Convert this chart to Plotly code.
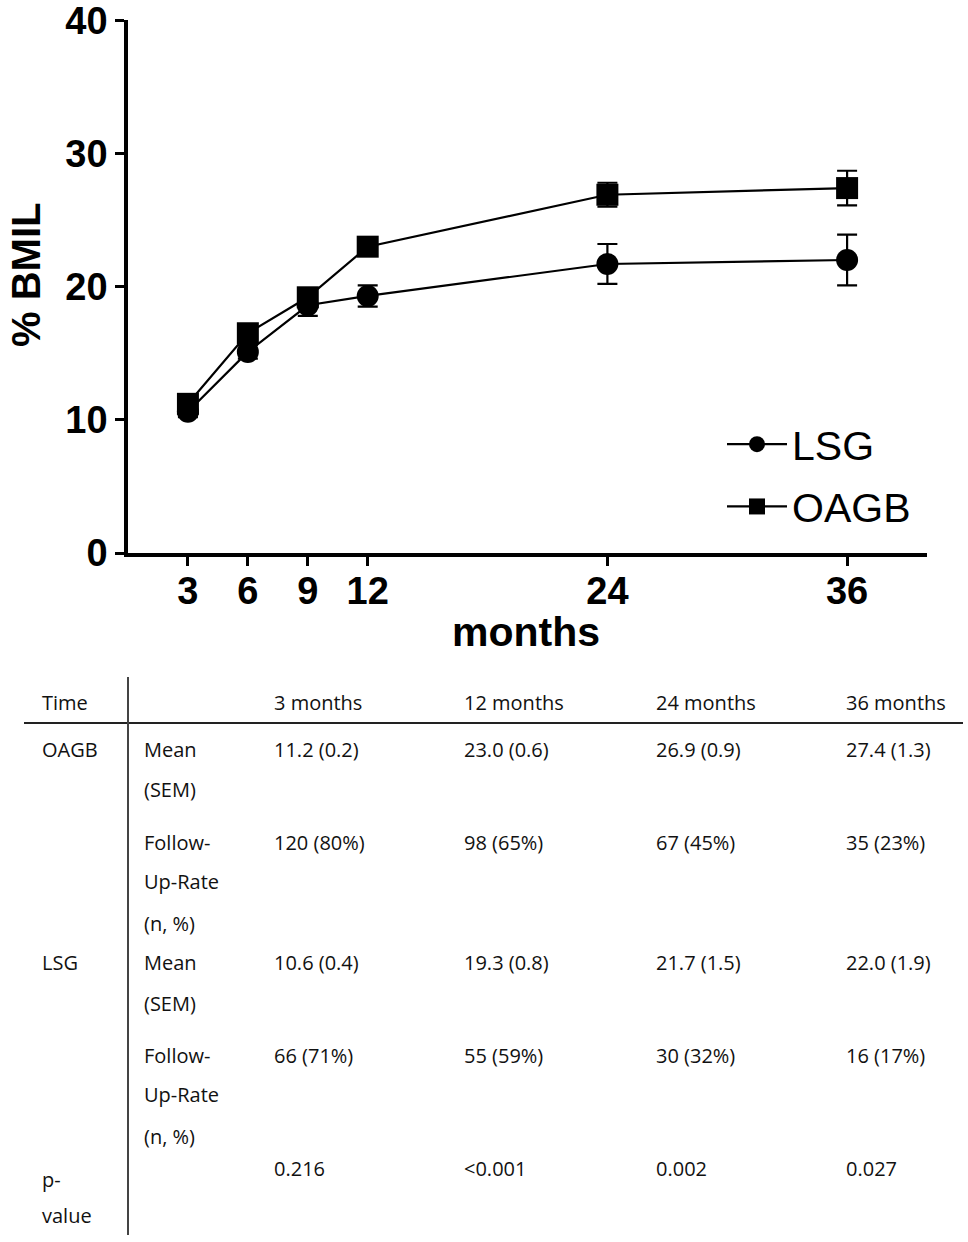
import plotly.graph_objects as go

# chart data (% BMIL, mean and SEM)
months = [3, 6, 9, 12, 24, 36]
lsg_mean = [10.6, 15.1, 18.6, 19.3, 21.7, 22.0]
lsg_sem = [0.4, 0.5, 0.8, 0.8, 1.5, 1.9]
oagb_mean = [11.2, 16.5, 19.2, 23.0, 26.9, 27.4]
oagb_sem = [0.2, 0.4, 0.5, 0.6, 0.9, 1.3]
y_ticks = [0, 10, 20, 30, 40]

# table data
table_months = [3, 12, 24, 36]
oagb_n = [120, 98, 67, 35]
oagb_pct = [80, 65, 45, 23]
lsg_n = [66, 55, 30, 16]
lsg_pct = [71, 59, 32, 17]
p_values = ["0.216", "<0.001", "0.002", "0.027"]

W, H = 968, 1242
# plot area in page pixels: x 128..927, y 20..553
L, T = 128, 20
R, B = W - 927, H - 553
PW, PH = W - L - R, H - T - B


def px(x):
    return (x - L) / PW


def py(y):
    return (H - B - y) / PH


fig = go.Figure()

for name, mean, sem, sym in [("LSG", lsg_mean, lsg_sem, "circle"),
                             ("OAGB", oagb_mean, oagb_sem, "square")]:
    fig.add_trace(go.Scatter(
        x=months, y=mean, name=name, mode="lines+markers",
        line=dict(color="black", width=2.2),
        marker=dict(symbol=sym, size=22, color="black"),
        error_y=dict(type="data", array=sem, visible=True,
                     color="black", thickness=2.2, width=10),
        legendgroup=name,
    ))

bold_font = dict(family="Arial, Liberation Sans", size=38, color="black", weight="bold")
fig.update_xaxes(
    range=[0, 40], tickvals=months, ticktext=[str(m) for m in months],
    showline=True, linecolor="black", linewidth=3.5,
    ticks="outside", ticklen=9, tickwidth=3, tickcolor="black",
    showgrid=False, zeroline=False, tickfont=bold_font,
    ticklabelstandoff=-7, automargin=False,
)
fig.update_yaxes(
    range=[0, 40.02], tickvals=y_ticks, ticktext=[str(v) for v in y_ticks],
    showline=True, linecolor="black", linewidth=3.5,
    ticks="outside", ticklen=9, tickwidth=3, tickcolor="black",
    showgrid=False, zeroline=False, tickfont=bold_font,
    ticklabeloverflow="allow", automargin=False,
)

anns = [
    dict(x=px(526), y=py(632), xref="paper", yref="paper", text="<b>months</b>",
         showarrow=False, xanchor="center", yanchor="middle",
         font=dict(family="Arial, Liberation Sans", size=41, color="black")),
    dict(x=px(26), y=py(275), xref="paper", yref="paper", text="<b>% BMIL</b>",
         showarrow=False, xanchor="center", yanchor="middle", textangle=-90,
         font=dict(family="Arial, Liberation Sans", size=40, color="black")),
]

# table below the chart
tfont = dict(family="Open Sans", size=20, color="#111")
col_x = [272, 462, 654, 844]


def cell(x, y, text):
    anns.append(dict(x=px(x), y=py(y), xref="paper", yref="paper", text=text,
                     showarrow=False, xanchor="left", yanchor="middle", font=tfont))


cell(40, 702, "Time")
for cx, m in zip(col_x, table_months):
    cell(cx, 702, f"{m} months")

for label, y0, mean, sem, n, pct in [
        ("OAGB", 749, oagb_mean, oagb_sem, oagb_n, oagb_pct),
        ("LSG", 962, lsg_mean, lsg_sem, lsg_n, lsg_pct)]:
    cell(40, y0, label)
    cell(142, y0, "Mean")
    cell(142, y0 + 41, "(SEM)")
    cell(142, y0 + 93, "Follow-")
    cell(142, y0 + 132, "Up-Rate")
    cell(142, y0 + 174, "(n, %)")
    for cx, m in zip(col_x, table_months):
        i = months.index(m)
        cell(cx, y0, f"{mean[i]:.1f} ({sem[i]:.1f})")
    for cx, nn, pp in zip(col_x, n, pct):
        cell(cx, y0 + 93, f"{nn} ({pp}%)")

cell(40, 1179, "p-")
cell(40, 1215, "value")
for cx, p in zip(col_x, p_values):
    cell(cx, 1168, p)

fig.add_shape(type="line", xref="paper", yref="paper",
              x0=px(24), x1=px(963), y0=py(723), y1=py(723),
              line=dict(color="#222", width=2))
fig.add_shape(type="line", xref="paper", yref="paper",
              x0=px(128), x1=px(128), y0=py(677), y1=py(1235),
              line=dict(color="#444", width=2))

fig.update_layout(
    width=W, height=H,
    margin=dict(l=L, r=R, t=T, b=B, autoexpand=False),
    paper_bgcolor="white", plot_bgcolor="white",
    annotations=anns,
    showlegend=True,
    legend=dict(x=px(722), y=py(411), xanchor="left", yanchor="top",
                itemwidth=60,
                font=dict(family="Arial, Liberation Sans", size=41, color="black"),
                tracegroupgap=6, bgcolor="rgba(0,0,0,0)"),
)

# drop the default 8px body margin so the figure sits at the page corner
fig.write_html("out.html", config={"displayModeBar": False},
               post_script="document.body.style.margin = '0';")
